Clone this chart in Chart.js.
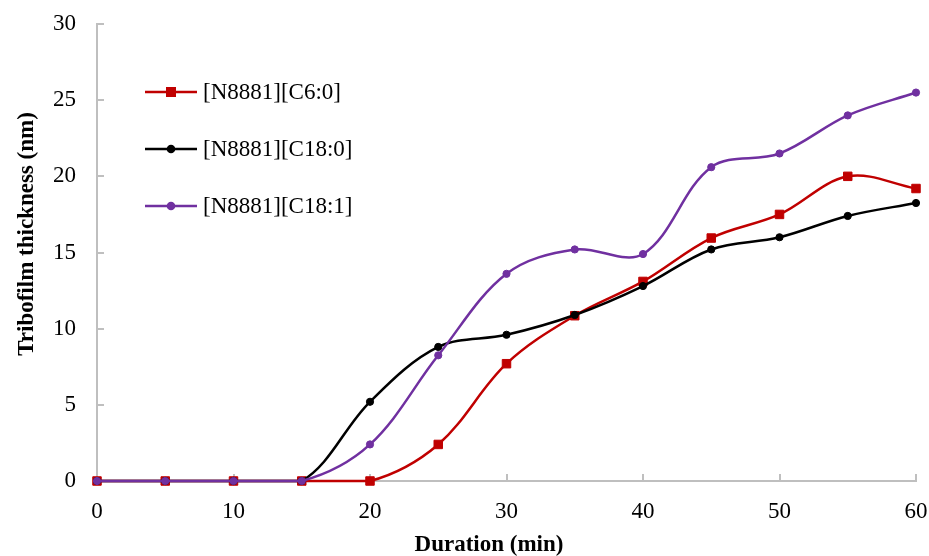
<!DOCTYPE html>
<html>
<head>
<meta charset="utf-8">
<title>Tribofilm thickness</title>
<script src="https://cdn.jsdelivr.net/npm/chart.js@4.4.1/dist/chart.umd.min.js"></script>
<style>
  html, body { margin: 0; padding: 0; background: #fff; }
  #wrap { width: 929px; height: 556px; }
</style>
</head>
<body>
<div id="wrap"><canvas id="linechart" width="929" height="556"></canvas></div>
<script>
// values
var durations = [0, 5, 10, 15, 20, 25, 30, 35, 40, 45, 50, 55, 60];
var seriesNames = ['[N8881][C6:0]', '[N8881][C18:0]', '[N8881][C18:1]'];
var c6_0  = [0, 0, 0, 0, 0,   2.4, 7.7,  10.85, 13.1, 15.95, 17.5, 20.0, 19.2];
var c18_0 = [0, 0, 0, 0, 5.2, 8.8, 9.6,  10.9,  12.8, 15.2,  16.0, 17.4, 18.25];
var c18_1 = [0, 0, 0, 0, 2.4, 8.25, 13.6, 15.2, 14.9, 20.6,  21.5, 24.0, 25.5];
var xTicks = [0, 10, 20, 30, 40, 50, 60];
var yTicks = [0, 5, 10, 15, 20, 25, 30];

(function() {
  var serif = "'Liberation Serif', 'Times New Roman', serif";
  var axisGrey = '#bfbfbf';

  function points(values) {
    return durations.map(function(d, i) { return { x: d, y: values[i] }; });
  }

  var styles = [
    { color: '#c00000', pointStyle: 'rect', radius: 6, order: 2 },
    { color: '#000000', pointStyle: 'circle', radius: 3.6, order: 1 },
    { color: '#7030a0', pointStyle: 'circle', radius: 3.6, order: 0 }
  ];
  var values = [c6_0, c18_0, c18_1];

  var datasets = values.map(function(v, i) {
    var s = styles[i];
    return {
      label: seriesNames[i],
      data: points(v),
      borderColor: s.color,
      backgroundColor: s.color,
      borderWidth: 2.5,
      pointStyle: s.pointStyle,
      pointRadius: s.radius,
      pointBorderWidth: 1,
      pointBorderColor: s.color,
      pointBackgroundColor: s.color,
      tension: 0.35,
      order: s.order,
      clip: 10
    };
  });

  // inward tick marks, axis titles and the legend inside the plot
  var decorations = {
    id: 'decorations',
    beforeDatasetsDraw: function(chart) {
      var ctx = chart.ctx;
      var xs = chart.scales.x, ys = chart.scales.y;
      var area = chart.chartArea;
      ctx.save();
      ctx.strokeStyle = axisGrey;
      ctx.lineWidth = 2;
      ctx.beginPath();
      xTicks.forEach(function(t) {
        if (t === 0) return;
        var px = Math.round(xs.getPixelForValue(t));
        ctx.moveTo(px, area.bottom);
        ctx.lineTo(px, area.bottom - 7);
      });
      yTicks.forEach(function(t) {
        if (t === 0) return;
        var py = Math.round(ys.getPixelForValue(t));
        ctx.moveTo(area.left, py);
        ctx.lineTo(area.left + 7, py);
      });
      ctx.stroke();
      ctx.restore();
    },
    afterDraw: function(chart) {
      var ctx = chart.ctx;
      ctx.save();
      ctx.fillStyle = '#000';
      ctx.font = 'bold 23px ' + serif;
      ctx.textAlign = 'center';
      ctx.textBaseline = 'middle';
      ctx.fillText('Duration (min)', 489, 545);

      ctx.translate(27, 234);
      ctx.rotate(-Math.PI / 2);
      ctx.fillText('Tribofilm thickness (nm)', 0, 0);
      ctx.restore();

      // legend
      ctx.save();
      ctx.font = '23px ' + serif;
      ctx.textAlign = 'left';
      ctx.textBaseline = 'middle';
      var rows = [92, 149, 206];
      styles.forEach(function(s, i) {
        var y = rows[i];
        ctx.strokeStyle = s.color;
        ctx.lineWidth = 2.5;
        ctx.beginPath();
        ctx.moveTo(145, y);
        ctx.lineTo(197, y);
        ctx.stroke();
        ctx.fillStyle = s.color;
        if (s.pointStyle === 'rect') {
          ctx.fillRect(171 - 5, y - 5, 10, 10);
        } else {
          ctx.beginPath();
          ctx.arc(171, y, 4.3, 0, Math.PI * 2);
          ctx.fill();
        }
        ctx.fillStyle = '#000';
        ctx.fillText(seriesNames[i], 203, y + 1);
      });
      ctx.restore();
    }
  };

  var ctx = document.getElementById('linechart').getContext('2d');
  if (ctx) {
    new Chart(ctx, {
      type: 'line',
      data: { datasets: datasets },
      options: {
        responsive: false,
        animation: false,
        layout: { padding: { left: 0, right: 13, top: 24, bottom: 0 } },
        plugins: {
          legend: { display: false },
          tooltip: { enabled: false }
        },
        scales: {
          x: {
            type: 'linear',
            min: 0,
            max: 60,
            afterBuildTicks: function(scale) {
              scale.ticks = xTicks.map(function(v) { return { value: v }; });
            },
            afterFit: function(scale) {
              scale.height = 75;
              scale.paddingLeft = 0;
              scale.paddingRight = 0;
            },
            grid: { display: false, drawTicks: false },
            border: { display: true, color: axisGrey, width: 2 },
            ticks: {
              color: '#000',
              padding: 17,
              maxRotation: 0,
              autoSkip: false,
              font: { family: serif, size: 23 }
            }
          },
          y: {
            min: 0,
            max: 30,
            afterBuildTicks: function(scale) {
              scale.ticks = yTicks.map(function(v) { return { value: v }; });
            },
            afterFit: function(scale) {
              scale.width = 97;
              scale.paddingTop = 0;
              scale.paddingBottom = 0;
            },
            grid: { display: false, drawTicks: false },
            border: { display: true, color: axisGrey, width: 2 },
            ticks: {
              color: '#000',
              padding: 21,
              font: { family: serif, size: 23 }
            }
          }
        }
      },
      plugins: [decorations]
    });
  } else {
    console.error("Canvas context not found.");
  }
})();
</script>
</body>
</html>
